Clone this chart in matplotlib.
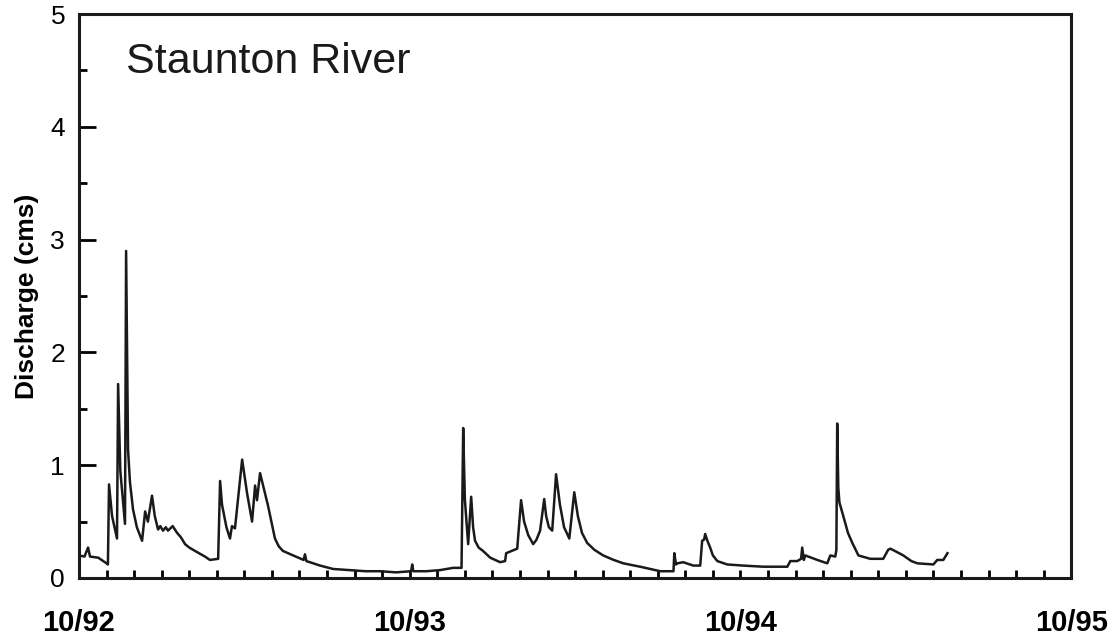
import matplotlib.pyplot as plt
from matplotlib.ticker import MultipleLocator

plt.rcParams['font.family'] = ['Liberation Sans', 'DejaVu Sans']

# months since 1 Oct 1992, daily discharge (cms)
months = [0.0, 0.2, 0.33, 0.4, 0.7, 1.0, 1.05, 1.09, 1.2, 1.38, 1.42, 1.5, 1.67,
          1.71, 1.78, 1.85, 1.96, 2.1, 2.29, 2.40, 2.50, 2.65, 2.75, 2.87, 2.95,
          3.05, 3.15, 3.23, 3.4, 3.56, 3.7, 3.85, 4.0, 4.21, 4.57, 4.75, 5.05,
          5.12, 5.19, 5.35, 5.48, 5.55, 5.66, 5.92, 6.1, 6.28, 6.39, 6.46, 6.57,
          6.7, 6.86, 7.0, 7.11, 7.25, 7.40, 7.77, 8.15, 8.20, 8.25, 8.75, 9.22,
          9.84, 10.4, 10.93, 11.5, 12.05, 12.09, 12.13, 12.6, 13.10, 13.58,
          13.88, 13.94, 14.0, 14.12, 14.23, 14.3, 14.37, 14.5, 14.66, 14.92,
          15.28, 15.46, 15.50, 15.90, 16.04, 16.15, 16.3, 16.48, 16.6, 16.73,
          16.88, 16.95, 17.05, 17.17, 17.31, 17.45, 17.6, 17.79, 17.97, 18.1,
          18.25, 18.44, 18.7, 19.02, 19.4, 19.75, 20.36, 20.73, 21.09, 21.45,
          21.57, 21.60, 21.66, 21.71, 21.92, 22.29, 22.54, 22.61, 22.68, 22.72,
          22.8, 22.90, 23.0, 23.16, 23.52, 24.10, 24.83, 25.70, 25.81, 26.06,
          26.20, 26.24, 26.30, 26.35, 26.79, 27.15, 27.26, 27.44, 27.48, 27.51,
          27.55, 27.59, 27.73, 27.9, 28.06, 28.28, 28.71, 29.18, 29.36, 29.44,
          29.6, 29.91, 30.2, 30.42, 31.00, 31.14, 31.36, 31.51]
discharge = [0.20, 0.19, 0.27, 0.19, 0.18, 0.13, 0.12, 0.83, 0.55, 0.35, 1.72, 0.95,
             0.48, 2.90, 1.14, 0.85, 0.61, 0.45, 0.33, 0.59, 0.50, 0.73, 0.55,
             0.43, 0.46, 0.42, 0.45, 0.42, 0.46, 0.40, 0.36, 0.30, 0.27, 0.24,
             0.19, 0.16, 0.17, 0.86, 0.65, 0.45, 0.35, 0.46, 0.44, 1.05, 0.75,
             0.50, 0.82, 0.69, 0.93, 0.80, 0.64, 0.48, 0.35, 0.28, 0.24, 0.20,
             0.16, 0.21, 0.15, 0.11, 0.08, 0.07, 0.06, 0.06, 0.05, 0.06, 0.12,
             0.06, 0.06, 0.07, 0.09, 0.09, 1.33, 0.70, 0.30, 0.72, 0.45, 0.33,
             0.27, 0.24, 0.18, 0.14, 0.15, 0.22, 0.26, 0.69, 0.50, 0.38, 0.30,
             0.34, 0.42, 0.70, 0.55, 0.45, 0.42, 0.92, 0.65, 0.45, 0.35, 0.76,
             0.55, 0.40, 0.31, 0.25, 0.20, 0.16, 0.13, 0.10, 0.08, 0.06, 0.06,
             0.06, 0.22, 0.12, 0.13, 0.14, 0.11, 0.11, 0.33, 0.34, 0.39, 0.33,
             0.27, 0.20, 0.15, 0.12, 0.11, 0.10, 0.10, 0.15, 0.15, 0.17, 0.27,
             0.16, 0.20, 0.16, 0.13, 0.20, 0.19, 0.25, 1.37, 0.80, 0.67, 0.55,
             0.40, 0.31, 0.20, 0.17, 0.17, 0.25, 0.26, 0.24, 0.20, 0.15, 0.13,
             0.12, 0.16, 0.16, 0.22]

year_ticks = [0, 12, 24, 36]
year_labels = ['10/92', '10/93', '10/94', '10/95']

fig = plt.figure(figsize=(11.17, 6.41), dpi=100)
ax = fig.add_axes([0.0707, 0.0983, 0.8883, 0.8797])

ax.plot(months, discharge, color='#1a1a1a', lw=1.8)

ax.set_xlim(0, 36)
ax.set_ylim(0, 5)

ax.set_xticks(year_ticks)
ax.set_xticklabels(year_labels, fontsize=21, fontweight='bold')
ax.xaxis.set_minor_locator(MultipleLocator(1))
ax.tick_params(axis='x', which='both', direction='in', length=6, width=2,
               pad=22, bottom=True, top=False)

ax.yaxis.set_major_locator(MultipleLocator(1))
ax.yaxis.set_minor_locator(MultipleLocator(0.5))
ax.tick_params(axis='y', which='major', direction='in', length=12, width=2,
               labelsize=19, pad=10, left=True, right=False)
ax.tick_params(axis='y', which='minor', direction='in', length=6, width=2,
               left=True, right=False)

for sp in ax.spines.values():
    sp.set_linewidth(2.2)
    sp.set_color('#1a1a1a')

ax.set_ylabel('Discharge (cms)', fontsize=19, fontweight='bold', labelpad=8)
ax.text(0.047, 0.915, 'Staunton River', transform=ax.transAxes,
        fontsize=31, va='center', ha='left', color='#1a1a1a')

fig.savefig('out.png', dpi=100)
